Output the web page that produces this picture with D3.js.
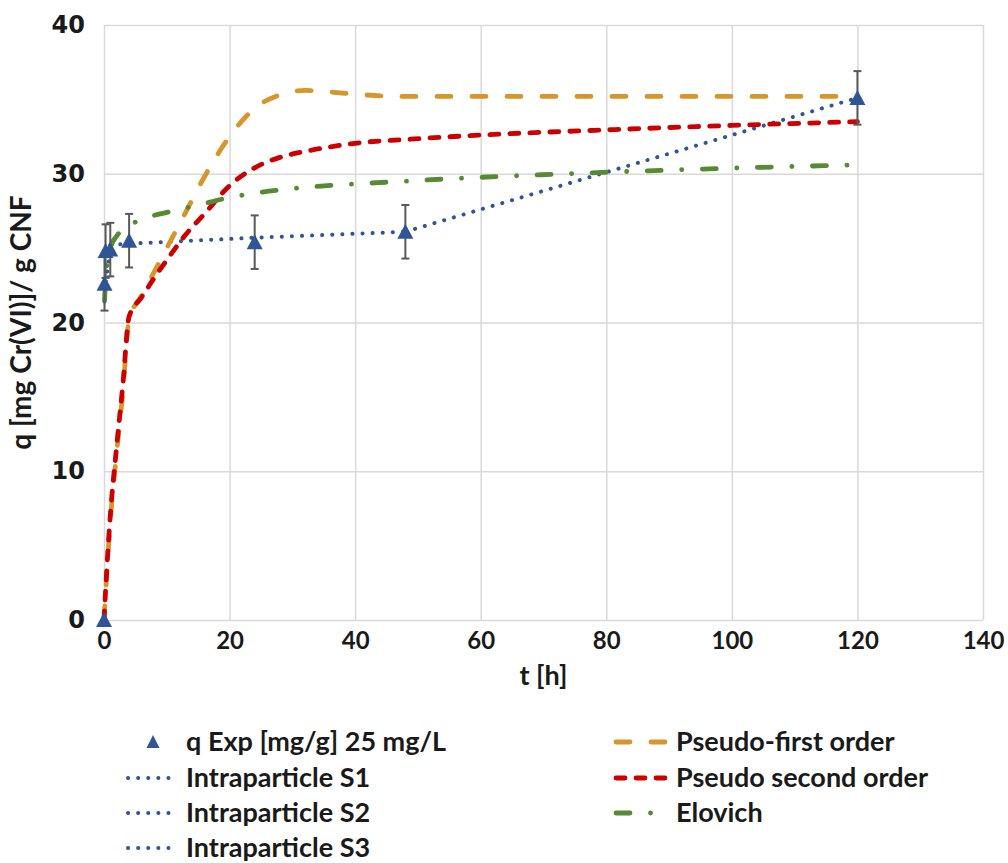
<!DOCTYPE html>
<html>
<head>
<meta charset="utf-8">
<script src="https://cdn.jsdelivr.net/npm/d3@7"></script>
<style>
  body { margin: 0; background: #fff; }
  svg { display: block; }
</style>
</head>
<body>
<svg id="chart" width="1008" height="863"></svg>
<script>
// Experimental uptake of Cr(VI) on CNF (25 mg/L)
const expTime = [0, 0.083, 0.25, 1, 4, 24, 48, 120];
const qExp    = [0, 22.6, 24.8, 24.9, 25.5, 25.4, 26.1, 35.1];
const qErr    = [0, 1.8, 1.8, 1.8, 1.8, 1.8, 1.8, 1.8];

// Kinetic model curves
const modelTime    = [0, 0.5, 1, 2, 3, 4, 6, 8, 10, 13, 16, 20, 24, 28, 32, 36, 40, 48, 60, 80, 100, 120];
const pseudoFirst  = [0, 3.4, 6.6, 11.2, 15.3, 20.2, 21.8, 23.4, 25.0, 27.4, 29.8, 32.5, 34.4, 35.3, 35.6, 35.5, 35.35, 35.2, 35.2, 35.2, 35.2, 35.2];
const pseudoSecond = [0, 3.8, 7.0, 11.6, 15.8, 20.4, 21.7, 23.0, 24.2, 25.9, 27.3, 29.2, 30.4, 31.1, 31.5, 31.8, 32.05, 32.3, 32.6, 32.95, 33.25, 33.5];
const elovichTime  = [0.083, 0.25, 0.5, 1, 2, 4, 8, 10, 15, 20, 24, 30, 48, 80, 120];
const elovich      = [21.5, 22.8, 24.0, 25.0, 25.8, 26.5, 27.2, 27.4, 27.9, 28.4, 28.7, 29.0, 29.5, 30.1, 30.6];

// Intraparticle diffusion stages
const s1Time = [0.083, 0.25, 1];
const s1     = [21.4, 22.6, 24.9];
const s2Time = [1, 4, 24, 48];
const s2     = [25.2, 25.3, 25.7, 26.1];
const s3Time = [48, 120];
const s3     = [26.1, 35.1];

const xTicks = [0, 20, 40, 60, 80, 100, 120, 140];
const yTicks = [0, 10, 20, 30, 40];

const legendLeft  = ["q Exp [mg/g] 25 mg/L", "Intraparticle S1", "Intraparticle S2", "Intraparticle S3"];
const legendRight = ["Pseudo-first order", "Pseudo second order", "Elovich"];

const BLUE = "#2F5597", ORANGE = "#D6962B", RED = "#CC0000", GREEN = "#568A35";
const GRID = "#D9D9D9";
const TEXT_FONT = "Lato, 'Liberation Sans', sans-serif";
const TICK_FONT = "'DejaVu Sans', Verdana, sans-serif";

const svg = d3.select("#chart");
const x = d3.scaleLinear().domain([0, 140]).range([104, 983]);
const y = d3.scaleLinear().domain([0, 40]).range([620, 25]);
const plotH = y(0) - y(40);
const plotW = x(140) - x(0);

// Gridlines
svg.append("g")
  .attr("transform", `translate(0,${y(0)})`)
  .call(d3.axisBottom(x).tickValues(xTicks).tickSize(-plotH).tickFormat(""))
  .call(g => g.select(".domain").remove())
  .call(g => g.selectAll("line").attr("stroke", GRID).attr("stroke-width", 1.5));
svg.append("g")
  .attr("transform", `translate(${x(0)},0)`)
  .call(d3.axisLeft(y).tickValues(yTicks).tickSize(-plotW).tickFormat(""))
  .call(g => g.select(".domain").remove())
  .call(g => g.selectAll("line").attr("stroke", GRID).attr("stroke-width", 1.5));

// Tick labels
svg.append("g")
  .attr("transform", `translate(0,${y(0) + 12})`)
  .call(d3.axisBottom(x).tickValues(xTicks).tickSize(0).tickPadding(0))
  .call(g => g.select(".domain").remove())
  .call(g => g.selectAll("text")
    .attr("font-family", TEXT_FONT).attr("font-size", 24).attr("font-weight", 700)
    .attr("fill", "#1a1a1a"));
svg.append("g")
  .attr("transform", `translate(${x(0) - 19},0)`)
  .call(d3.axisLeft(y).tickValues(yTicks).tickSize(0).tickPadding(0))
  .call(g => g.select(".domain").remove())
  .call(g => g.selectAll("text")
    .attr("font-family", TICK_FONT).attr("font-size", 24).attr("font-weight", 700)
    .attr("fill", "#1a1a1a"));

// Axis titles
svg.append("text")
  .attr("x", (x(0) + x(140)) / 2).attr("y", 685)
  .attr("text-anchor", "middle")
  .attr("font-family", TEXT_FONT).attr("font-size", 27).attr("font-weight", 700)
  .attr("fill", "#1a1a1a")
  .text("t [h]");
svg.append("text")
  .attr("transform", `translate(31,${(y(0) + y(40)) / 2}) rotate(-90)`)
  .attr("text-anchor", "middle")
  .attr("font-family", TEXT_FONT).attr("font-size", 28).attr("font-weight", 700)
  .attr("fill", "#1a1a1a")
  .text("q [mg Cr(VI)]/ g CNF");

// Line styles
const styles = {
  dot:    { color: BLUE,   dash: "0.1 10",           width: 4 },
  first:  { color: ORANGE, dash: "14 21",            width: 4.8 },
  second: { color: RED,    dash: "9 11",             width: 4.8 },
  elov:   { color: GREEN,  dash: "14 20.5 0.1 20.5", width: 4.8 }
};

const zip = (ts, qs) => ts.map((t, i) => [t, qs[i]]);
const smooth = d3.line().x(d => x(d[0])).y(d => y(d[1])).curve(d3.curveMonotoneX);
const straight = d3.line().x(d => x(d[0])).y(d => y(d[1]));

function drawSeries(data, gen, st) {
  svg.append("path")
    .attr("d", gen(data))
    .attr("fill", "none")
    .attr("stroke", st.color)
    .attr("stroke-width", st.width)
    .attr("stroke-dasharray", st.dash)
    .attr("stroke-linecap", "round")
    .attr("stroke-linejoin", "round");
}

drawSeries(zip(s1Time, s1), straight, styles.dot);
drawSeries(zip(s2Time, s2), straight, styles.dot);
drawSeries(zip(s3Time, s3), straight, styles.dot);
drawSeries(zip(modelTime, pseudoFirst), smooth, styles.first);
drawSeries(zip(modelTime, pseudoSecond), smooth, styles.second);
drawSeries(zip(elovichTime, elovich), smooth, styles.elov);

// Error bars
const exp = expTime.map((t, i) => ({ t, q: qExp[i], e: qErr[i] }));
const eb = svg.append("g").attr("stroke", "#595959").attr("stroke-width", 2);
exp.filter(d => d.e > 0).forEach(d => {
  const cx = x(d.t), y1 = y(d.q + d.e), y0 = y(d.q - d.e);
  eb.append("line").attr("x1", cx).attr("x2", cx).attr("y1", y1).attr("y2", y0);
  eb.append("line").attr("x1", cx - 4).attr("x2", cx + 4).attr("y1", y1).attr("y2", y1);
  eb.append("line").attr("x1", cx - 4).attr("x2", cx + 4).attr("y1", y0).attr("y2", y0);
});

// Triangle markers
const tri = (cx, cy, w, h) => `M${cx},${cy - h / 2 - 1}L${cx + w / 2},${cy + h / 2}L${cx - w / 2},${cy + h / 2}Z`;
svg.append("g").selectAll("path").data(exp).join("path")
  .attr("d", d => tri(x(d.t), y(d.q), 16, 14))
  .attr("fill", BLUE);

// Legend
const rowY = [742, 778, 813, 848];
const lg = svg.append("g").attr("font-family", TEXT_FONT).attr("font-size", 27).attr("font-weight", 700).attr("fill", "#1a1a1a");
lg.append("path").attr("d", tri(153, rowY[0], 13, 12)).attr("fill", BLUE);
legendLeft.forEach((label, i) => {
  lg.append("text").attr("x", 186).attr("y", rowY[i]).attr("dy", "0.35em").text(label);
  if (i > 0) {
    lg.append("line").attr("x1", 128).attr("x2", 178.1).attr("y1", rowY[i]).attr("y2", rowY[i])
      .attr("stroke", BLUE).attr("stroke-width", styles.dot.width)
      .attr("stroke-dasharray", styles.dot.dash).attr("stroke-linecap", "round");
  }
});
const rightStyles = [styles.first, styles.second, styles.elov];
legendRight.forEach((label, i) => {
  const st = rightStyles[i];
  lg.append("line").attr("x1", 616).attr("x2", 668).attr("y1", rowY[i]).attr("y2", rowY[i])
    .attr("stroke", st.color).attr("stroke-width", st.width)
    .attr("stroke-dasharray", st.dash).attr("stroke-linecap", "round");
  lg.append("text").attr("x", 676).attr("y", rowY[i]).attr("dy", "0.35em").text(label);
});
</script>
</body>
</html>
